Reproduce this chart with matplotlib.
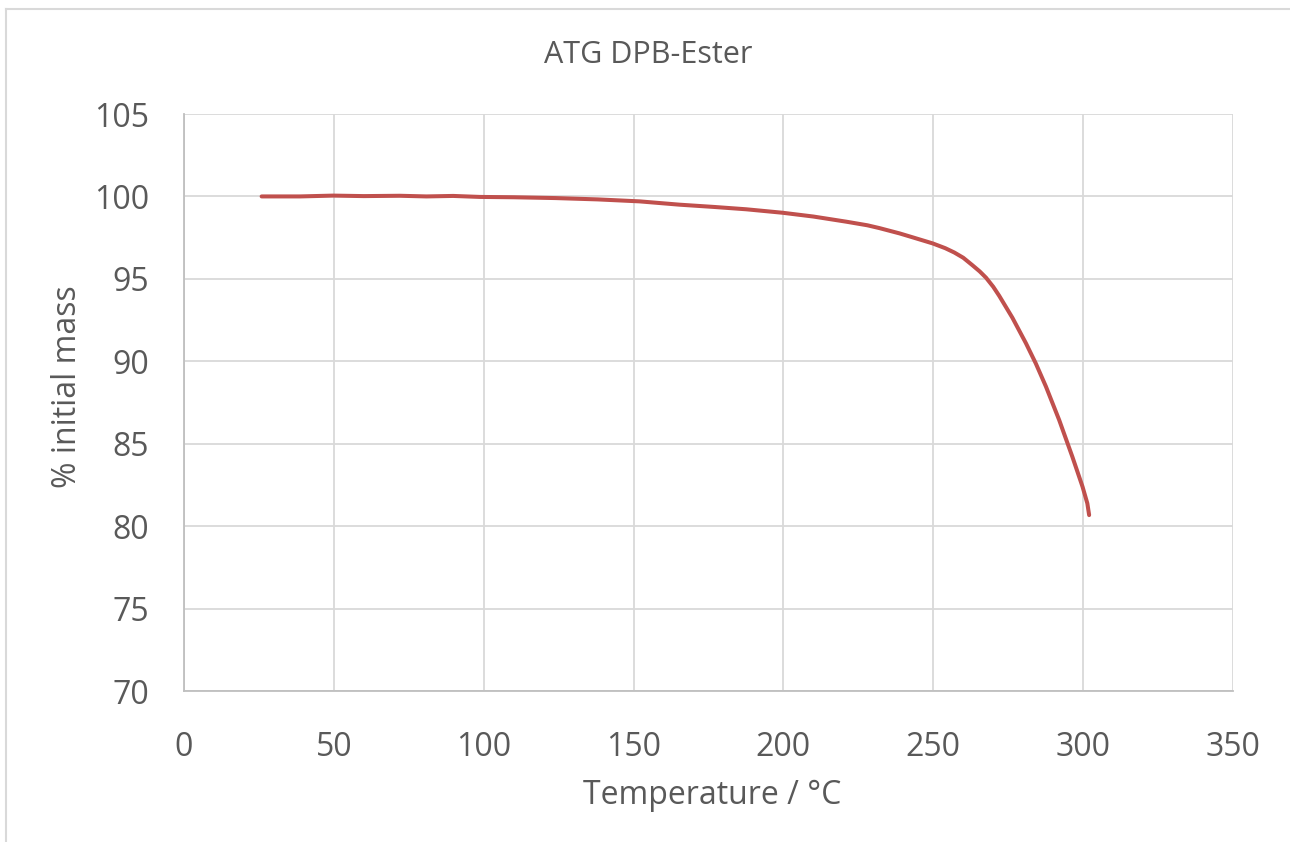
import matplotlib.pyplot as plt
from matplotlib.lines import Line2D

# TGA readings
temperature = [25.9, 38.7, 49.8, 60.0, 72.0, 80.9, 89.8, 98.7, 110.0, 124.0, 138.0,
               152.0, 165.3, 177.0, 187.6, 199.7, 210.0, 220.9, 228.0, 232.0, 238.7,
               243.1, 249.8, 254.0, 257.0, 260.0, 263.1, 265.5, 267.6, 270.0, 272.0,
               276.4, 280.9, 284.2, 287.6, 292.0, 296.4, 299.8, 301.4, 302.0]
mass_pct = [100.0, 100.0, 100.05, 100.02, 100.04, 100.0, 100.03, 99.97, 99.95, 99.9, 99.82,
            99.7, 99.5, 99.36, 99.22, 99.01, 98.78, 98.47, 98.25, 98.08, 97.76,
            97.52, 97.15, 96.86, 96.6, 96.28, 95.82, 95.45, 95.07, 94.52, 93.97,
            92.64, 91.1, 89.87, 88.46, 86.44, 84.21, 82.39, 81.38, 80.67]

x_ticks = [0, 50, 100, 150, 200, 250, 300, 350]
y_ticks = [70, 75, 80, 85, 90, 95, 100, 105]

text_col = '#595959'
grid_col = '#d9d9d9'
plt.rcParams['font.family'] = ['Open Sans', 'DejaVu Sans']

W, H = 1290, 842
fig = plt.figure(figsize=(W / 100, H / 100), dpi=100)
ax = fig.add_axes([184 / W, 1 - 691 / H, (1233 - 184) / W, (691 - 114) / H])

ax.plot(temperature, mass_pct, color='#c0504d', linewidth=2.9,
        solid_capstyle='round', solid_joinstyle='round', zorder=3)

ax.set_xlim(0, 350)
ax.set_ylim(70, 105)
ax.set_xticks(x_ticks)
ax.set_yticks(y_ticks)
ax.grid(True, color=grid_col, linewidth=1.3)
ax.set_axisbelow(True)
ax.tick_params(length=0, labelsize=23, labelcolor=text_col)
ax.tick_params(axis='y', pad=25)
ax.tick_params(axis='x', pad=29)
for side in ['top', 'right']:
    ax.spines[side].set_visible(False)
for side in ['left', 'bottom']:
    ax.spines[side].set_color('#bfbfbf')
    ax.spines[side].set_linewidth(1.3)

fig.text(648 / W, 1 - 55 / H, 'ATG DPB-Ester', ha='center', va='center',
         fontsize=22, color=text_col)
fig.text(712 / W, 1 - 795 / H, 'Temperature / °C', ha='center', va='center',
         fontsize=23, color=text_col)
fig.text(67 / W, 1 - 387 / H, '% initial mass', ha='center', va='center',
         rotation=90, fontsize=23, color=text_col)

# outer chart frame (runs off the right and bottom edges)
fig.add_artist(Line2D([6 / W, 6 / W], [0, 1 - 9 / H], color=grid_col, linewidth=1.5))
fig.add_artist(Line2D([6 / W, 1], [1 - 9 / H, 1 - 9 / H], color=grid_col, linewidth=1.5))

fig.savefig('out.png', dpi=100)
